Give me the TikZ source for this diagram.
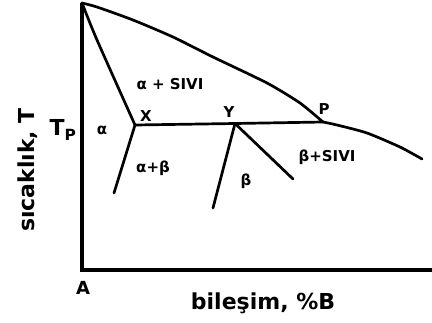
\documentclass[tikz,border=0pt]{standalone}
\usepackage{fontspec}
\setmainfont{DejaVu Sans}
\begin{document}
\begin{tikzpicture}[x=1pt,y=-1pt,
  axis/.style={line width=3.3pt},
  curve/.style={line width=2.7pt, line join=round, line cap=round},
  lbl/.style={inner sep=0pt, font=\fontsize{15}{15}\selectfont\bfseries},
  biglbl/.style={inner sep=0pt, font=\fontsize{22}{22}\selectfont\bfseries}]
\useasboundingbox (0,0) rectangle (432,322);
% key points
\coordinate (top) at (82,3);
\coordinate (orig) at (82,270);
\coordinate (xend) at (432,270);
\coordinate (X) at (135,125);
\coordinate (Y) at (235,123.5);
\coordinate (P) at (323,122);
\coordinate (ab) at (114,193);
\coordinate (bl) at (213,208);
\coordinate (br) at (293,179);
\coordinate (lend) at (422,159);
% axes
\draw[axis] (top) -- (orig) -- (xend);
% liquidus
\draw[curve] plot[smooth, tension=0.4] coordinates {(82,3) (97,7) (133,20) (173,37) (213,57) (267,83) (300,103) (323,122)};
\draw[curve] plot[smooth, tension=0.4] coordinates {(323,122) (337,125) (367,133) (400,147) (422,159)};
% alpha solidus
\draw[curve] plot[smooth, tension=0.4] coordinates {(82,3) (97,40) (135,125)};
% peritectic line
\draw[curve] (X) -- (Y) -- (P);
% solvus lines
\draw[curve] (X) -- (ab);
\draw[curve] (Y) -- (bl);
\draw[curve] (Y) -- (br);
% labels
\node[lbl] (l1) at (170,84) {α + SIVI};
\node[lbl] (lx) at (146,116) {X};
\node[lbl] (ly) at (229,112) {Y};
\node[lbl] (lp) at (324,109) {P};
\node[lbl] (la) at (102,130) {α};
\node[lbl] (lab) at (153,168) {α+β};
\node[lbl] (lb) at (246,181) {β};
\node[lbl] (lbs) at (327,157) {β+SIVI};
\node[biglbl] (tp) at (63,130) {T\textsubscript{P}};
\node[biglbl, rotate=90] (ylab) at (28,170) {sıcaklık, T};
\node[lbl, font=\fontsize{18}{18}\selectfont\bfseries] (lA) at (83,288) {A};
\node[biglbl] (xlab) at (263,303) {bileşim, \%B};
\end{tikzpicture}
\end{document}
